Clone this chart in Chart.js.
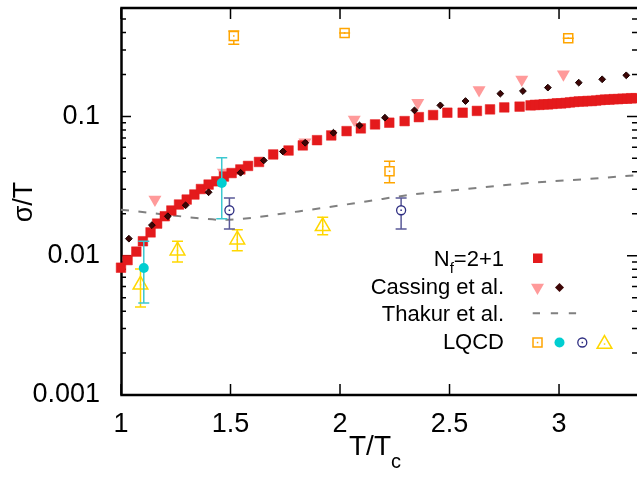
<!DOCTYPE html>
<html>
<head>
<meta charset="utf-8">
<script src="https://cdn.jsdelivr.net/npm/chart.js@4.4.0/dist/chart.umd.min.js"></script>
<style>
  body { margin: 0; background: #fff; }
  canvas { display: block; }
</style>
</head>
<body>
<canvas id="sigmaChart" width="637" height="477"></canvas>
<script>
// N_f = 2+1 conductivity
const nfT = [1.00, 1.03, 1.07, 1.10, 1.135, 1.165, 1.20, 1.23, 1.265, 1.30, 1.335, 1.365, 1.40, 1.435,
  1.47, 1.505, 1.545, 1.58, 1.63, 1.695, 1.765, 1.83, 1.895, 1.96, 2.03, 2.095, 2.16, 2.225, 2.295,
  2.36, 2.425, 2.49, 2.56, 2.625, 2.685, 2.75, 2.82,
  2.87, 2.89, 2.91, 2.93, 2.95, 2.97, 2.99, 3.01, 3.03, 3.05, 3.07, 3.09, 3.11, 3.13, 3.15, 3.17,
  3.19, 3.21, 3.23, 3.25, 3.27, 3.29, 3.31, 3.33, 3.35];
const nfSigma = [0.0082, 0.0093, 0.0107, 0.0127, 0.0147, 0.0170, 0.0192, 0.0211, 0.0233, 0.0253, 0.0275, 0.0301, 0.0324, 0.0342,
  0.0370, 0.0392, 0.0416, 0.0441, 0.0471, 0.0533, 0.0569, 0.0619, 0.0675, 0.0730, 0.0784, 0.0820, 0.0876, 0.0901, 0.0925,
  0.0988, 0.1022, 0.1063, 0.1063, 0.1095, 0.1123, 0.1160, 0.1175,
  0.120, 0.121, 0.121, 0.122, 0.122, 0.123, 0.124, 0.124, 0.125, 0.126, 0.127, 0.128, 0.128, 0.129, 0.129, 0.130,
  0.131, 0.132, 0.132, 0.133, 0.133, 0.134, 0.134, 0.135, 0.135];

// Cassing et al. (two sets)
const cassTriT = [1.155, 1.468, 1.84, 2.065, 2.355, 2.635, 2.83, 3.02];
const cassTriSigma = [0.0253, 0.0395, 0.0653, 0.0951, 0.1255, 0.155, 0.184, 0.2006];
const cassDiaT = [1.036, 1.141, 1.214, 1.295, 1.40, 1.546, 1.652, 1.739, 1.841, 1.97, 2.089,
  2.205, 2.34, 2.458, 2.573, 2.732, 2.835, 2.949, 3.09, 3.197, 3.307];
const cassDiaSigma = [0.01325, 0.01657, 0.0192, 0.0230, 0.02853, 0.0394, 0.0483, 0.0560, 0.0647, 0.0763, 0.0861,
  0.0979, 0.1105, 0.120, 0.1289, 0.1457, 0.152, 0.1609, 0.1747, 0.1846, 0.1972];

// Thakur et al. curve
const thakurT = [1.0, 1.176, 1.343, 1.463, 1.595, 1.762, 1.943, 2.126, 2.331, 2.559, 2.865, 3.139, 3.356];
const thakurSigma = [0.0214, 0.01995, 0.01867, 0.01807, 0.01867, 0.0203, 0.02226, 0.0246, 0.0275, 0.0299, 0.0333, 0.0356, 0.0379];

// LQCD points with error ranges
const lqSqT = [1.515, 2.021, 2.226, 3.042];
const lqSqSigma = [0.378, 0.397, 0.0404, 0.364];
const lqSqLo = [0.330, 0.397, 0.0334, 0.364];
const lqSqHi = [0.411, 0.397, 0.0477, 0.364];

const lqDiscT = [1.104, 1.460];
const lqDiscSigma = [0.00816, 0.0333];
const lqDiscLo = [0.00457, 0.0184];
const lqDiscHi = [0.01268, 0.0505];

const lqRingT = [1.495, 2.279];
const lqRingSigma = [0.0212, 0.0212];
const lqRingLo = [0.01556, 0.01556];
const lqRingHi = [0.0260, 0.0260];

const lqTriT = [1.089, 1.258, 1.531, 1.921];
const lqTriSigma = [0.00618, 0.01086, 0.01303, 0.01625];
const lqTriLo = [0.00428, 0.0090, 0.01086, 0.01416];
const lqTriHi = [0.00802, 0.01268, 0.01538, 0.01886];

const xTicks = [1, 1.5, 2, 2.5, 3];
const yTicks = [0.001, 0.01, 0.1];

const FONT = '"Liberation Sans", Arial, sans-serif';
const RED = '#e41a1c', PINK = '#ff9a9a', DARK = '#3d0505', GRAY = '#808080';
const ORANGE = '#ffa500', CYAN = '#00ced1', NAVY = '#2e2e82', YELLOW = '#ffd700';

const pts = (xs, ys) => xs.map((x, i) => ({ x: x, y: ys[i] }));

// minor log ticks 2..9 in each decade
const yMinor = [];
for (let e = -3; e <= -1; e++) {
  for (let k = 2; k <= 9; k++) {
    const v = k * Math.pow(10, e);
    if (v < 0.6) yMinor.push(v);
  }
}

const errorBars = {
  id: 'errorBars',
  beforeDatasetDraw(chart, args) {
    const ds = chart.data.datasets[args.index];
    if (!ds.errLo) return;
    const c = chart.ctx, xs = chart.scales.x, ys = chart.scales.y;
    const gap = ds.errGap || 0;
    c.save();
    c.strokeStyle = ds.errColor;
    c.lineWidth = 1.5;
    c.beginPath();
    ds.data.forEach((p, i) => {
      const px = xs.getPixelForValue(p.x);
      const py = ys.getPixelForValue(p.y);
      const lo = ys.getPixelForValue(ds.errLo[i]);
      const hi = ys.getPixelForValue(ds.errHi[i]);
      if (hi < py - gap) { c.moveTo(px, py - gap); c.lineTo(px, hi); }
      if (lo > py + gap) { c.moveTo(px, py + gap); c.lineTo(px, lo); }
      c.moveTo(px - 5.5, hi); c.lineTo(px + 5.5, hi);
      c.moveTo(px - 5.5, lo); c.lineTo(px + 5.5, lo);
    });
    c.stroke();
    c.restore();
  },
  afterDatasetDraw(chart, args) {
    const ds = chart.data.datasets[args.index];
    if (!ds.centerDot) return;
    const c = chart.ctx, xs = chart.scales.x, ys = chart.scales.y;
    c.save();
    c.fillStyle = ds.borderColor;
    ds.data.forEach(p => {
      c.fillRect(xs.getPixelForValue(p.x) - 0.75, ys.getPixelForValue(p.y) - 0.75, 1.5, 1.5);
    });
    c.restore();
  }
};

// box and inward tick marks on all four sides
const frame = {
  id: 'frame',
  beforeDatasetsDraw(chart) {
    const c = chart.ctx, a = chart.chartArea, xs = chart.scales.x, ys = chart.scales.y;
    c.save();
    c.strokeStyle = '#000';
    c.lineWidth = 1.5;
    c.beginPath();
    yMinor.forEach(v => {
      const py = ys.getPixelForValue(v);
      c.moveTo(a.left, py); c.lineTo(a.left + 5, py);
      c.moveTo(a.right, py); c.lineTo(a.right - 5, py);
    });
    yTicks.forEach(v => {
      const py = ys.getPixelForValue(v);
      c.moveTo(a.left, py); c.lineTo(a.left + 10, py);
      c.moveTo(a.right, py); c.lineTo(a.right - 10, py);
    });
    xTicks.forEach(v => {
      const px = xs.getPixelForValue(v);
      c.moveTo(px, a.bottom); c.lineTo(px, a.bottom - 11);
      c.moveTo(px, a.top); c.lineTo(px, a.top + 11);
    });
    c.stroke();
    c.lineWidth = 2.5;
    c.beginPath();
    c.moveTo(a.right + 2, a.top); c.lineTo(a.left + 0.5, a.top);
    c.lineTo(a.left + 0.5, a.bottom); c.lineTo(a.right + 2, a.bottom);
    c.stroke();
    c.restore();
  }
};

function tri(c, x, y, r, down) {
  const s = down ? -1 : 1;
  c.beginPath();
  c.moveTo(x, y - s * r);
  c.lineTo(x + r * 0.866, y + s * r / 2);
  c.lineTo(x - r * 0.866, y + s * r / 2);
  c.closePath();
}

// key and axis titles (with subscripts)
const annotations = {
  id: 'annotations',
  afterDraw(chart) {
    const c = chart.ctx;
    c.save();
    c.fillStyle = '#000';
    c.textAlign = 'left';
    c.textBaseline = 'alphabetic';

    // key text, right aligned at x = 504
    const right = 504;
    c.font = '22px ' + FONT;
    const wN = c.measureText('N').width, wRest = c.measureText('=2+1').width;
    c.font = '15px ' + FONT;
    const wF = c.measureText('f').width;
    let x0 = right - wN - wF - wRest;
    c.font = '22px ' + FONT;
    c.fillText('N', x0, 265.5);
    c.font = '15px ' + FONT;
    c.fillText('f', x0 + wN, 272.5);
    c.font = '22px ' + FONT;
    c.fillText('=2+1', x0 + wN + wF, 265.5);
    c.textAlign = 'right';
    c.fillText('Cassing et al.', right, 294);
    c.fillText('Thakur et al.', right, 321);
    c.fillText('LQCD', right, 348.5);

    // key symbols
    c.fillStyle = RED;
    c.fillRect(533, 253.5, 9.5, 9.5);
    c.fillStyle = PINK;
    tri(c, 537.5, 287.5, 7.5, true); c.fill();
    c.fillStyle = DARK;
    c.beginPath();
    c.moveTo(559.5, 283); c.lineTo(564, 287.5); c.lineTo(559.5, 292); c.lineTo(555, 287.5);
    c.closePath(); c.fill();
    c.strokeStyle = GRAY; c.lineWidth = 2;
    c.beginPath();
    [532.7, 550.8, 568.8].forEach(s => { c.moveTo(s, 313.3); c.lineTo(s + 7.3, 313.3); });
    c.stroke();
    c.lineWidth = 1.5;
    c.strokeStyle = ORANGE;
    c.strokeRect(533, 338, 9, 9);
    c.fillStyle = ORANGE; c.fillRect(536.8, 341.8, 1.5, 1.5);
    c.fillStyle = CYAN;
    c.beginPath(); c.arc(559.5, 342.5, 5, 0, Math.PI * 2); c.fill();
    c.strokeStyle = NAVY; c.lineWidth = 1.3;
    c.beginPath(); c.arc(582.3, 342.5, 4.5, 0, Math.PI * 2); c.stroke();
    c.fillStyle = NAVY; c.fillRect(581.6, 341.8, 1.5, 1.5);
    c.strokeStyle = YELLOW; c.lineWidth = 1.5;
    tri(c, 604.5, 344, 8.5, false); c.stroke();
    c.fillStyle = YELLOW; c.fillRect(603.8, 343.3, 1.5, 1.5);

    // axis titles
    c.fillStyle = '#000';
    c.textAlign = 'left';
    c.font = '28px ' + FONT;
    const wT = c.measureText('T/T').width;
    c.font = '20px ' + FONT;
    const wc = c.measureText('c').width;
    const tx = 375 - (wT + wc) / 2;
    c.font = '28px ' + FONT;
    c.fillText('T/T', tx, 455);
    c.font = '20px ' + FONT;
    c.fillText('c', tx + wT, 468);

    c.translate(32, 202);
    c.rotate(-Math.PI / 2);
    c.textAlign = 'center';
    c.font = '27px ' + FONT;
    c.fillText('σ/T', 0, 0);
    c.restore();
  }
};

const ctx = document.getElementById('sigmaChart').getContext('2d');
const chart = new Chart(ctx, {
  type: 'scatter',
  data: {
    datasets: [
      {
        label: 'Thakur et al.',
        data: pts(thakurT, thakurSigma),
        showLine: true,
        cubicInterpolationMode: 'monotone',
        borderColor: GRAY,
        borderWidth: 2,
        borderDash: [8, 9.5],
        pointRadius: 0,
        clip: false,
        order: 7
      },
      {
        label: 'Cassing et al.',
        data: pts(cassTriT, cassTriSigma),
        pointStyle: 'triangle',
        rotation: 180,
        pointRadius: 7.5,
        backgroundColor: PINK,
        borderWidth: 0,
        clip: false,
        order: 6
      },
      {
        label: 'Nf=2+1',
        data: pts(nfT, nfSigma),
        pointStyle: 'rect',
        pointRadius: 6.8,
        backgroundColor: RED,
        borderColor: RED,
        borderWidth: 0.5,
        clip: false,
        order: 5
      },
      {
        label: 'Cassing et al. 2',
        data: pts(cassDiaT, cassDiaSigma),
        pointStyle: 'rectRot',
        pointRadius: 3.4,
        backgroundColor: DARK,
        borderColor: '#1a0000',
        borderWidth: 1,
        clip: false,
        order: 4
      },
      {
        label: 'LQCD triangles',
        data: pts(lqTriT, lqTriSigma),
        errLo: lqTriLo, errHi: lqTriHi, errColor: YELLOW, errGap: 0,
        centerDot: true,
        pointStyle: 'triangle',
        pointRadius: 8.5,
        backgroundColor: 'rgba(0,0,0,0)',
        borderColor: YELLOW,
        borderWidth: 1.5,
        clip: false,
        order: 3
      },
      {
        label: 'LQCD squares',
        data: pts(lqSqT, lqSqSigma),
        errLo: lqSqLo, errHi: lqSqHi, errColor: ORANGE, errGap: 4.5,
        centerDot: true,
        pointStyle: 'rect',
        pointRadius: 6.4,
        backgroundColor: 'rgba(0,0,0,0)',
        borderColor: ORANGE,
        borderWidth: 1.5,
        clip: false,
        order: 2
      },
      {
        label: 'LQCD rings',
        data: pts(lqRingT, lqRingSigma),
        errLo: lqRingLo, errHi: lqRingHi, errColor: '#5a5a98', errGap: 4.5,
        centerDot: true,
        pointStyle: 'circle',
        pointRadius: 4.5,
        backgroundColor: 'rgba(0,0,0,0)',
        borderColor: NAVY,
        borderWidth: 1.3,
        clip: false,
        order: 1
      },
      {
        label: 'LQCD discs',
        data: pts(lqDiscT, lqDiscSigma),
        errLo: lqDiscLo, errHi: lqDiscHi, errColor: '#3cc8d0', errGap: 0,
        pointStyle: 'circle',
        pointRadius: 5,
        backgroundColor: CYAN,
        borderWidth: 0,
        clip: false,
        order: 0
      }
    ]
  },
  options: {
    responsive: false,
    animation: false,
    events: [],
    layout: { autoPadding: false, padding: { top: 8, right: 0, left: 0, bottom: 0 } },
    plugins: { legend: { display: false }, tooltip: { enabled: false } },
    scales: {
      x: {
        type: 'linear',
        bounds: 'data',
        min: 1,
        max: 3.356,
        afterBuildTicks: ax => { ax.ticks = xTicks.map(v => ({ value: v })); },
        afterFit: s => {
          s.height = 82;
          s.paddingLeft = 0; s.paddingRight = 0;
        },
        grid: { display: false, drawTicks: false },
        border: { display: false },
        ticks: { color: '#000', font: { family: FONT, size: 27 }, padding: 13, maxRotation: 0, callback: v => String(v) }
      },
      y: {
        type: 'logarithmic',
        min: 0.001,
        max: 0.6,
        afterBuildTicks: ax => { ax.ticks = yTicks.map(v => ({ value: v })); },
        afterFit: s => {
          s.width = 121;
          s.paddingTop = 0; s.paddingBottom = 0;
        },
        grid: { display: false, drawTicks: false },
        border: { display: false },
        ticks: { color: '#000', font: { family: FONT, size: 27 }, padding: 21, callback: v => String(v) }
      }
    }
  },
  plugins: [frame, errorBars, annotations]
});
</script>
</body>
</html>
